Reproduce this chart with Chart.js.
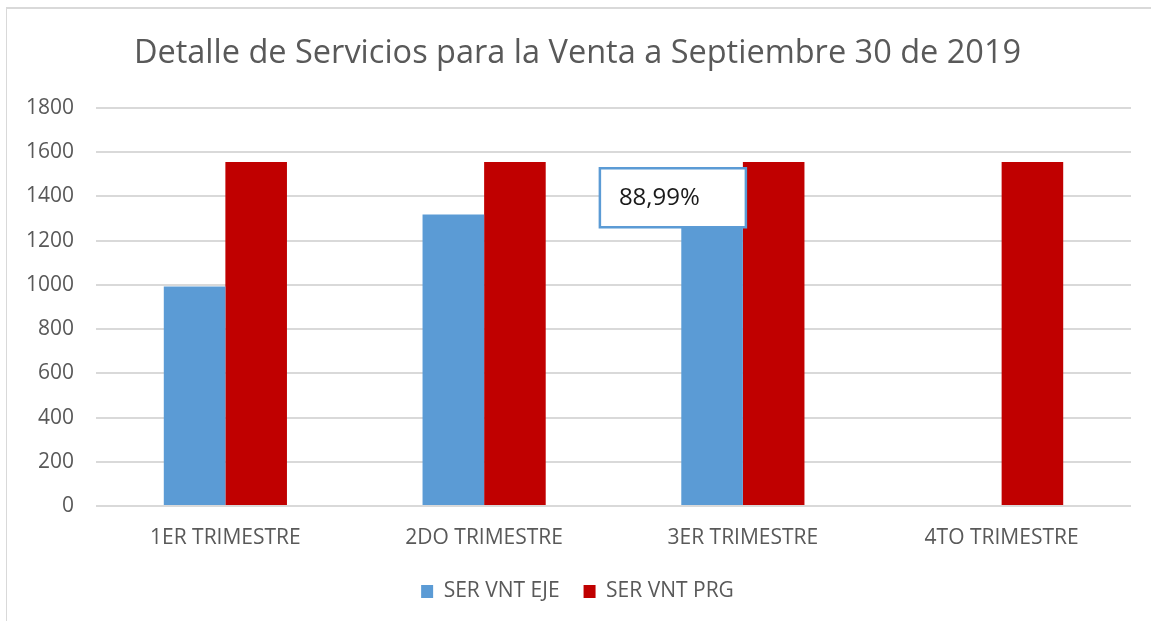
<!DOCTYPE html>
<html>
<head>
<meta charset="utf-8">
<script src="https://cdn.jsdelivr.net/npm/chart.js@4/dist/chart.umd.min.js"></script>
<style>
  html, body { margin: 0; padding: 0; background: #fff; }
  #wrap { position: relative; width: 1151px; height: 621px; overflow: hidden; }
  #frame { position: absolute; left: 6px; top: 7px; width: 1200px; height: 700px;
           border-left: 1px solid #d9d9d9; border-top: 2px solid #d9d9d9; }
  canvas { position: absolute; left: 0; top: 0; }
</style>
</head>
<body>
<div id="wrap">
  <div id="frame"></div>
  <canvas id="c" width="1151" height="621"></canvas>
</div>
<script>
const titleText = 'Detalle de Servicios para la Venta a Septiembre 30 de 2019';
const categories = ['1ER TRIMESTRE', '2DO TRIMESTRE', '3ER TRIMESTRE', '4TO TRIMESTRE'];
const serVntEje = [993, 1318, 1385, null];
const serVntPrg = [1556, 1556, 1556, 1556];
const seriesNames = ['SER VNT EJE', 'SER VNT PRG'];
const yTicks = [0, 200, 400, 600, 800, 1000, 1200, 1400, 1600, 1800];
const callout = { seriesIndex: 0, pointIndex: 2, text: '88,99%' };

const FONT = 'Open Sans';
const GREY = '#595959';

const calloutPlugin = {
  id: 'callout',
  afterDatasetsDraw(chart) {
    const meta = chart.getDatasetMeta(callout.seriesIndex);
    const bar = meta.data[callout.pointIndex];
    if (!bar) return;
    const ctx = chart.ctx;
    const w = 146, h = 59;
    const right = bar.x + bar.width / 2 + 3;
    const left = right - w;
    const top = bar.y - h / 2 - 2;
    ctx.save();
    ctx.fillStyle = '#ffffff';
    ctx.fillRect(left, top, w, h);
    ctx.strokeStyle = '#5b9bd5';
    ctx.lineWidth = 2.5;
    ctx.strokeRect(left, top, w, h);
    ctx.fillStyle = '#1a1a1a';
    ctx.font = '24px "' + FONT + '"';
    ctx.textBaseline = 'middle';
    ctx.textAlign = 'left';
    ctx.fillText(callout.text, left + 19, top + h / 2);
    ctx.restore();
  }
};

new Chart(document.getElementById('c'), {
  type: 'bar',
  data: {
    labels: categories,
    datasets: [
      { label: seriesNames[0], data: serVntEje, backgroundColor: '#5b9bd5', borderWidth: 0 },
      { label: seriesNames[1], data: serVntPrg, backgroundColor: '#c00000', borderWidth: 0 }
    ]
  },
  options: {
    responsive: false,
    animation: false,
    devicePixelRatio: 1,
    layout: { padding: { left: 24, right: 20, top: 0, bottom: 9 } },
    datasets: { bar: { barPercentage: 1, categoryPercentage: 0.476 } },
    plugins: {
      tooltip: { enabled: false },
      title: {
        display: true, text: titleText, color: GREY,
        font: { family: FONT, size: 32.5, weight: 'normal' },
        padding: { top: 34, bottom: 35 }
      },
      legend: {
        position: 'bottom',
        labels: {
          color: GREY, boxWidth: 12, boxHeight: 13, padding: 24,
          font: { family: FONT, size: 21 }
        }
      }
    },
    scales: {
      x: {
        grid: { display: false, drawTicks: false },
        border: { display: false },
        ticks: { color: GREY, font: { family: FONT, size: 21 }, padding: 19, maxRotation: 0 },
        afterFit(scale) { scale.height = 51; }
      },
      y: {
        min: 0, max: 1800,
        afterBuildTicks(scale) { scale.ticks = yTicks.map(v => ({ value: v })); },
        grid: { color: '#d9d9d9', lineWidth: 2, drawTicks: false },
        border: { display: false },
        ticks: { color: GREY, font: { family: FONT, size: 21 }, padding: 22,
                 callback: (v) => String(v) },
        afterFit(scale) { scale.width = 72; }
      }
    }
  },
  plugins: [calloutPlugin]
});
</script>
</body>
</html>
